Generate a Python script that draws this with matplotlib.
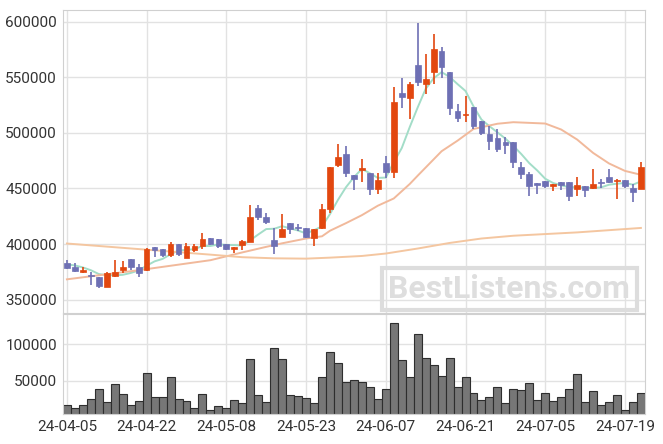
import numpy as np
import pandas as pd
import matplotlib.pyplot as plt

plt.rcParams['font.family'] = ['Roboto', 'DejaVu Sans']

# trading days shown
dates = ['24-04-05', '24-04-08', '24-04-09', '24-04-11', '24-04-12', '24-04-15', '24-04-16', '24-04-17',
         '24-04-18', '24-04-19', '24-04-22', '24-04-23', '24-04-24', '24-04-25', '24-04-26', '24-04-29',
         '24-04-30', '24-05-02', '24-05-03', '24-05-07', '24-05-08', '24-05-09', '24-05-10', '24-05-13',
         '24-05-14', '24-05-16', '24-05-17', '24-05-20', '24-05-21', '24-05-22', '24-05-23', '24-05-24',
         '24-05-27', '24-05-28', '24-05-29', '24-05-30', '24-05-31', '24-06-03', '24-06-04', '24-06-05',
         '24-06-07', '24-06-10', '24-06-11', '24-06-12', '24-06-13', '24-06-14', '24-06-17', '24-06-18',
         '24-06-19', '24-06-20', '24-06-21', '24-06-24', '24-06-25', '24-06-26', '24-06-27', '24-06-28',
         '24-07-01', '24-07-02', '24-07-03', '24-07-04', '24-07-05', '24-07-08', '24-07-09', '24-07-10',
         '24-07-11', '24-07-12', '24-07-15', '24-07-16', '24-07-17', '24-07-18', '24-07-19', '24-07-22',
         '24-07-23']

opens = [382900, 379300, 375100, 371800, 370300, 361600, 371200, 376600, 386200, 379000,
         376600, 397300, 395500, 389800, 400000, 387700, 394600, 398200, 405300, 405000,
         399800, 395600, 399200, 402000, 432000, 424200, 404100, 406500, 419400, 414900,
         414600, 405600, 414900, 431400, 470700, 480600, 462000, 466400, 463700, 449500,
         472700, 464900, 535700, 531500, 561000, 543800, 554400, 573600, 554400, 519500,
         515900, 523100, 511100, 498800, 495200, 491600, 491900, 469700, 463400, 455300,
         457100, 452000, 456200, 455600, 449500, 452600, 450500, 456200, 460400, 456500,
         457400, 450500, 449800]
highs = [385300, 382600, 379300, 374500, 370300, 374500, 385300, 384400, 386200, 381700,
         396100, 397300, 395500, 401500, 400000, 400900, 399700, 409600, 405300, 405000,
         399800, 397100, 403500, 434700, 435000, 427500, 414600, 426600, 419400, 417900,
         414600, 413400, 435600, 469500, 489600, 487800, 462000, 476300, 463700, 464300,
         479000, 541100, 549200, 545900, 598500, 570600, 588600, 577500, 554400, 526400,
         533000, 523100, 511100, 506600, 503600, 496400, 491900, 473600, 464600, 455300,
         457100, 454400, 456200, 455600, 460400, 452600, 467600, 458600, 467600, 458600,
         457400, 454400, 473900]
lows = [377200, 374800, 374200, 362800, 360100, 361000, 370000, 374200, 376600, 370000,
        375400, 388000, 388600, 388000, 389200, 387100, 393100, 395800, 399500, 396800,
        394400, 392000, 394400, 402000, 421500, 418500, 391400, 406500, 409500, 411600,
        405600, 398000, 414000, 427500, 469500, 460500, 448500, 455900, 444400, 445300,
        459500, 459500, 522800, 512600, 542000, 534800, 543500, 549500, 516500, 509600,
        509900, 503900, 497900, 485000, 482900, 481100, 468500, 458900, 443500, 445300,
        450500, 448000, 449000, 438400, 443500, 442300, 449800, 450500, 455000, 440800,
        450500, 437500, 449800]
closes = [378700, 376000, 376900, 371200, 362500, 373900, 374800, 379300, 379600, 373600,
          395500, 394300, 390400, 400300, 390700, 397900, 397900, 404500, 400300, 398000,
          395600, 397100, 402600, 423900, 423900, 420000, 398600, 414000, 414000, 414300,
          406800, 413400, 431100, 469200, 478200, 463500, 458700, 468500, 449500, 457400,
          464900, 527600, 532100, 543800, 546000, 548300, 575400, 559500, 522500, 513500,
          517400, 506300, 500000, 492800, 485900, 489200, 473600, 463100, 452000, 452900,
          452000, 454400, 452900, 443500, 453200, 448700, 454400, 455000, 455600, 457700,
          452000, 446800, 469700]
volumes = [16800, 12700, 16800, 25000, 38600, 21400, 45500, 31800, 16800, 22300,
           60500, 27700, 27700, 55000, 25000, 22300, 12700, 31800, 10000, 15500,
           12700, 23600, 19500, 79500, 30500, 20900, 94500, 79500, 30500, 29000,
           26400, 19500, 55000, 89000, 74000, 48200, 51000, 48600, 41400, 25000,
           38600, 128600, 78200, 55000, 113600, 80900, 71400, 56400, 80900, 41400,
           55000, 33200, 23600, 27700, 41400, 19500, 38600, 37300, 46800, 23600,
           33200, 22300, 27700, 38600, 59100, 20900, 35900, 16800, 20900, 30500,
           10000, 20900, 33200]

# 5-day average: first four values (need earlier closes)
ma5_head = [381700, 380800, 379000, 376500]

# longer averages at some candles
ma20_idx = [0, 9, 18, 22, 25, 27, 30, 32, 33, 35, 37, 39, 41, 43, 44, 47, 49, 51, 54, 56, 60, 62, 64, 66, 68, 70, 72]
ma20_val = [368300, 376500, 385500, 392500, 397500, 400700, 405000, 407000, 412000, 418800, 426000, 434500,
            441000, 454000, 461500, 483500, 493000, 503500, 508200, 509600, 508400, 503000, 494000, 482000,
            472500, 465800, 462300]
ma60_idx = [0, 9, 18, 22, 26, 30, 33, 37, 40, 44, 48, 52, 56, 60, 64, 68, 72]
ma60_val = [400500, 395500, 390500, 388200, 387200, 386900, 387800, 389300, 391500, 396000, 401000,
            405000, 407500, 409000, 410500, 412500, 414500]

x = np.arange(len(closes))
ma5 = pd.Series(closes).rolling(5).mean().to_numpy()
ma5[:4] = ma5_head

up_c = '#e2470f'
down_c = '#6e70b4'

fig = plt.figure(figsize=(6.63, 4.44), dpi=100)
ax = fig.add_axes([0.0943, 0.295, 0.879, 0.6825])
axv = fig.add_axes([0.0943, 0.0676, 0.879, 0.2252], sharex=ax)

for a in (ax, axv):
    a.grid(True, color='#e2e2e2', lw=1)
    a.set_axisbelow(True)
    for s in a.spines.values():
        s.set_color('#d0d0d0')
    a.tick_params(length=0, labelsize=11, colors='#333333', pad=4)

ax.plot(x, ma5, color='#a3ddc8', lw=1.4, zorder=2)
ax.plot(ma20_idx, ma20_val, color='#f1b99b', lw=1.4, zorder=2)
ax.plot(ma60_idx, ma60_val, color='#f4c6a0', lw=1.4, zorder=2)

for i in x:
    o, h, l, c = opens[i], highs[i], lows[i], closes[i]
    col = up_c if c >= o else down_c
    ax.vlines(i, l, h, color=col, lw=1.2, zorder=3)
    bot = min(o, c)
    ht = max(abs(c - o), 900)
    ax.bar(i, ht, bottom=bot, width=0.72, color=col, edgecolor=col, lw=0.5, zorder=4)

axv.bar(x, volumes, width=1.0, color='#777777', edgecolor='#2e2e2e', lw=0.8)

ax.set_xlim(-0.55, 72.55)
ax.set_ylim(338000, 610500)
ax.set_yticks([350000, 400000, 450000, 500000, 550000, 600000])
ax.set_yticklabels([str(v) for v in [350000, 400000, 450000, 500000, 550000, 600000]])
plt.setp(ax.get_xticklabels(), visible=False)

axv.set_ylim(5000, 141300)
axv.set_yticks([50000, 100000])
axv.set_yticklabels(['50000', '100000'])
ticks = list(range(0, len(dates), 10))
axv.set_xticks(ticks)
axv.set_xticklabels([dates[i] for i in ticks])

fig.text(0.768, 0.349, 'BestListens.com', fontsize=23, fontweight='bold', color='#dedede',
         ha='center', va='center', zorder=10,
         bbox=dict(boxstyle='square,pad=0.2', fc='none', ec='#dddddd', lw=3))

fig.savefig('out.png', dpi=100)
